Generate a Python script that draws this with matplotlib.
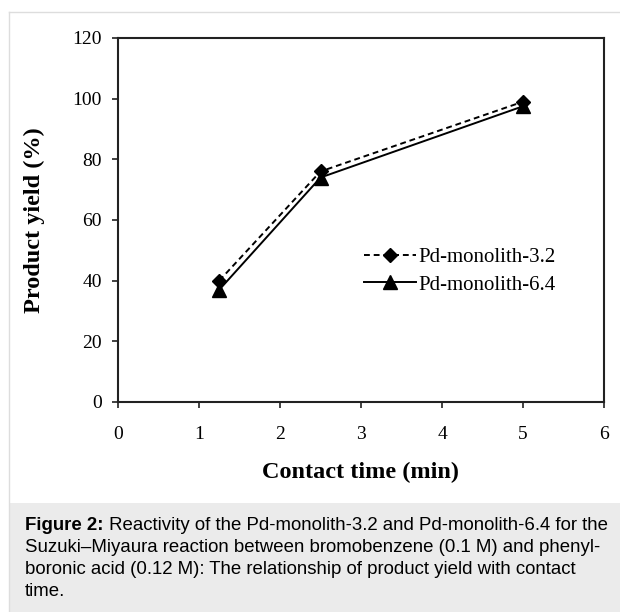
import matplotlib
matplotlib.use("Agg")
import matplotlib.pyplot as plt
from matplotlib.patches import Rectangle
from matplotlib.lines import Line2D

# contact time (min) and product yield (%)
time_min = [1.25, 2.5, 5]
yield_32 = [40, 76, 99]
yield_64 = [37, 74, 97.5]
labels = ["Pd-monolith-3.2", "Pd-monolith-6.4"]

caption_bold = "Figure 2:"
caption_lines = [
    " Reactivity of the Pd-monolith-3.2 and Pd-monolith-6.4 for the",
    "Suzuki\u2013Miyaura reaction between bromobenzene (0.1 M) and phenyl-",
    "boronic acid (0.12 M): The relationship of product yield with contact",
    "time.",
]

W, H = 620, 612
fig = plt.figure(figsize=(W / 100, H / 100), dpi=100)

# outer frame and caption box (pixel coords -> figure fractions)
def fx(px):
    return px / W

def fy(py):
    return 1 - py / H

fig.patches.append(Rectangle((fx(9), 0), 1 - fx(9), fy(503), transform=fig.transFigure,
                             facecolor="#ebebeb", edgecolor="none", zorder=0))
fig.lines.append(Line2D([fx(9), fx(9)], [0, fy(12)], transform=fig.transFigure, color="#dddddd", lw=1))
fig.lines.append(Line2D([fx(9), 1], [fy(12), fy(12)], transform=fig.transFigure, color="#dddddd", lw=1))

ax = fig.add_axes([fx(118), fy(402), fx(604) - fx(118), fy(38) - fy(402)])
serif = "Liberation Serif"

ax.plot(time_min, yield_32, color="black", lw=1.4, linestyle=(0, (3, 2)),
        marker="D", markersize=7.5, label=labels[0])
ax.plot(time_min, yield_64, color="black", lw=1.4, linestyle="-",
        marker="^", markersize=9.5, label=labels[1])

ax.set_xlim(0, 6)
ax.set_ylim(0, 120)
ax.set_xticks(range(0, 7))
ax.set_yticks(range(0, 121, 20))
for s in ax.spines.values():
    s.set_linewidth(1.5)
    s.set_color("#222222")
ax.tick_params(direction="out", length=4.5, width=1.3, color="#333333",
               labelsize=14, top=False, right=False)
ax.tick_params(axis="y", pad=7)
ax.tick_params(axis="x", pad=12.5)
for t in ax.get_xticklabels() + ax.get_yticklabels():
    t.set_family(serif)

ax.set_xlabel("Contact time (min)", fontfamily=serif, fontweight="bold", fontsize=17.5, labelpad=14)
ax.set_ylabel("Product yield (%)", fontfamily=serif, fontweight="bold", fontsize=17.5, labelpad=19.5)

ax.legend(loc="center left", bbox_to_anchor=(fx(356), fy(271)), bbox_transform=fig.transFigure,
          frameon=False, prop={"family": serif, "size": 15}, handlelength=2.5,
          handletextpad=0.1, labelspacing=0.4, borderaxespad=0)

# caption
cap_font = {"family": "Liberation Sans", "size": 13.4}
ys = [525, 547, 570, 592]
renderer = fig.canvas.get_renderer()
tb = fig.text(fx(25), fy(ys[0]), caption_bold, fontweight="bold", va="center", ha="left", **cap_font)
bb = tb.get_window_extent(renderer=renderer)
fig.text(bb.x1 / W, fy(ys[0]), caption_lines[0], va="center", ha="left", **cap_font)
for line, y in zip(caption_lines[1:], ys[1:]):
    fig.text(fx(25), fy(y), line, va="center", ha="left", **cap_font)

fig.savefig("out.png", dpi=100)
